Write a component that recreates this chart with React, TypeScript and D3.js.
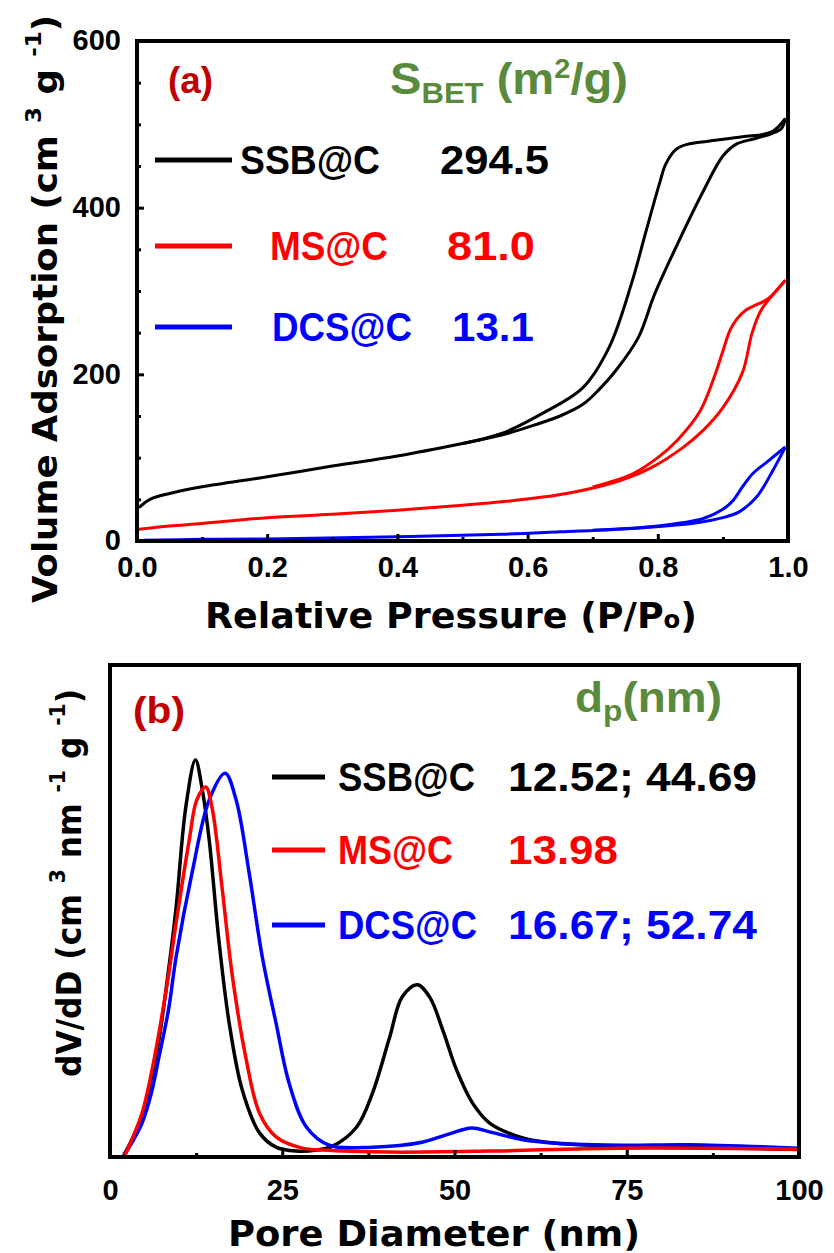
import React, { useEffect, useRef } from "react";
import * as d3 from "d3";

const W = 834;
const H = 1253;

// ---- (a) N2 adsorption / desorption isotherms ----
const ssbAdsP = [0.003, 0.02, 0.05, 0.1, 0.2, 0.3, 0.4, 0.5, 0.56, 0.61, 0.65, 0.685, 0.71, 0.735, 0.77, 0.795, 0.83, 0.87, 0.9, 0.92, 0.95, 0.975, 0.99, 0.996];
const ssbAdsV = [40, 50, 57, 65, 77, 90, 102, 117, 127, 139, 150, 164, 182, 204, 244, 296, 356, 420, 462, 476, 483, 489, 495, 507];
const ssbDesP = [0.996, 0.975, 0.93, 0.88, 0.845, 0.828, 0.812, 0.803, 0.782, 0.76, 0.725, 0.685, 0.62, 0.56, 0.5];
const ssbDesV = [507, 491, 485, 480, 476, 470, 452, 430, 372, 310, 232, 184, 152, 129, 117];

const msAdsP = [0.003, 0.05, 0.1, 0.2, 0.3, 0.4, 0.5, 0.56, 0.66, 0.74, 0.79, 0.84, 0.87, 0.9, 0.93, 0.945, 0.958, 0.975, 0.996];
const msAdsV = [14, 18, 21, 28, 32, 37, 43, 47, 57, 72, 88, 113, 133, 160, 202, 250, 276, 294, 313];
const msDesP = [0.996, 0.97, 0.95, 0.935, 0.921, 0.911, 0.9, 0.889, 0.865, 0.83, 0.8, 0.76, 0.7];
const msDesV = [313, 291, 283, 277, 266, 253, 228, 202, 156, 121, 100, 80, 65];

const dcsAdsP = [0.01, 0.1, 0.2, 0.4, 0.56, 0.65, 0.76, 0.86, 0.9, 0.925, 0.952, 0.977, 0.996];
const dcsAdsV = [1, 2, 2.5, 5, 8, 11, 15, 22, 28, 35, 53, 85, 113];
const dcsDesP = [0.996, 0.968, 0.946, 0.93, 0.916, 0.9, 0.87, 0.8, 0.7];
const dcsDesV = [113, 95, 81, 65, 49, 38, 27, 18, 13];

const aXTicks = [0, 0.2, 0.4, 0.6, 0.8, 1.0];
const aXMinor = [0.1, 0.3, 0.5, 0.7, 0.9];
const aYTicks = [0, 200, 400, 600];
const aYMinor = [50, 100, 150, 250, 300, 350, 450, 500, 550];

// ---- (b) pore size distribution (arb. units) ----
const ssbD = [2.0, 3, 4.65, 6, 7.1, 8.5, 9.6, 11.0, 12.4, 13.4, 14.4, 15.8, 17.3, 19.2, 21.7, 24.1, 27, 30, 32.3, 35.8, 38.1, 40.6, 42.4, 44.6, 46.4, 48.3, 50.3, 52.6, 55.1, 59.9, 64.8, 75, 85, 100];
const ssbDV = [0.004, 0.03, 0.081, 0.16, 0.238, 0.38, 0.508, 0.711, 0.807, 0.746, 0.644, 0.441, 0.272, 0.136, 0.049, 0.02, 0.012, 0.014, 0.022, 0.061, 0.13, 0.244, 0.325, 0.35, 0.325, 0.258, 0.177, 0.11, 0.069, 0.039, 0.028, 0.022, 0.02, 0.015];

const msD = [2.2, 3, 4.65, 6, 7.1, 8.5, 9.6, 11.5, 12.6, 13.9, 14.8, 16.3, 17.7, 19.7, 21.7, 24.1, 27.9, 30.8, 40.6, 55, 74, 100];
const msDV = [0.004, 0.03, 0.089, 0.17, 0.252, 0.37, 0.476, 0.644, 0.726, 0.752, 0.711, 0.543, 0.374, 0.203, 0.089, 0.041, 0.018, 0.014, 0.01, 0.012, 0.018, 0.016];

const dcsD = [2.0, 3, 4.65, 6, 7.1, 8.5, 9.6, 11.9, 14.4, 16.7, 18.3, 20.2, 22.1, 24.1, 26.0, 28.5, 31.8, 38.1, 45.3, 48.8, 52.5, 55.1, 59.9, 64.8, 74.4, 84, 100];
const dcsDV = [0.003, 0.025, 0.069, 0.13, 0.203, 0.3, 0.407, 0.577, 0.726, 0.78, 0.726, 0.577, 0.407, 0.272, 0.15, 0.061, 0.024, 0.02, 0.03, 0.045, 0.059, 0.051, 0.035, 0.028, 0.024, 0.025, 0.018];

const bXTicks = [0, 25, 50, 75, 100];
const bXMinor = [12.5, 37.5, 62.5, 87.5];

const samples = ["SSB@C", "MS@C", "DCS@C"];
const colors = ["#000000", "#ff0000", "#0000ff"];
const sbet = ["294.5", "81.0", "13.1"];
const dp = ["12.52; 44.69", "13.98", "16.67; 52.74"];

const LABEL_RED = "#c00000";
const GREEN = "#5a8a3c";
const SANS = "'Liberation Sans', Arial, sans-serif";
const WIDE = "'DejaVu Sans', Verdana, sans-serif";

const zip = (a: number[], b: number[]) => a.map((v, i) => [v, b[i]] as [number, number]);

function styleTicks(sel: any) {
  sel.select(".domain").remove();
  sel.selectAll(".tick line").attr("stroke", "#000").attr("stroke-width", 3);
  sel.selectAll(".tick text")
    .attr("fill", "#000")
    .style("font-family", SANS)
    .style("font-weight", "bold")
    .style("font-size", "29px");
}

// bold, slightly condensed label squeezed to a given width
function label(g: any, x: number, y: number, str: string, color: string, size: number, width: number) {
  return g.append("text").attr("x", x).attr("y", y).attr("fill", color)
    .attr("textLength", width).attr("lengthAdjust", "spacingAndGlyphs")
    .style("font-family", SANS).style("font-weight", "bold").style("font-size", `${size}px`)
    .text(str);
}

function drawIsotherm(svg: any) {
  const left = 137, right = 788, top = 41, bottom = 541;
  const x = d3.scaleLinear().domain([0, 1]).range([left, right]);
  const y = d3.scaleLinear().domain([0, 600]).range([bottom, top]);
  const g = svg.append("g");

  const line = d3.line<[number, number]>()
    .x(d => x(d[0]))
    .y(d => y(d[1]))
    .curve(d3.curveCatmullRom.alpha(0.5));

  const series = [
    [zip(ssbAdsP, ssbAdsV), zip(ssbDesP, ssbDesV)],
    [zip(msAdsP, msAdsV), zip(msDesP, msDesV)],
    [zip(dcsAdsP, dcsAdsV), zip(dcsDesP, dcsDesV)],
  ];
  series.forEach((branches, i) => {
    branches.forEach(b => {
      g.append("path").attr("d", line(b)).attr("fill", "none")
        .attr("stroke", colors[i]).attr("stroke-width", 3).attr("stroke-linejoin", "round");
    });
  });

  // axes (inward ticks)
  g.append("g").attr("transform", `translate(0,${bottom})`)
    .call(d3.axisBottom(x).tickValues(aXMinor).tickSize(-4).tickFormat(() => ""))
    .call(styleTicks);
  g.append("g").attr("transform", `translate(0,${bottom})`)
    .call(d3.axisBottom(x).tickValues(aXTicks).tickSize(-7).tickPadding(15).tickFormat(d3.format(".1f")))
    .call(styleTicks);
  g.append("g").attr("transform", `translate(0,0)`).attr("transform", `translate(${left},0)`)
    .call(d3.axisLeft(y).tickValues(aYMinor).tickSize(-4).tickFormat(() => ""))
    .call(styleTicks);
  const yAx = g.append("g").attr("transform", `translate(${left},0)`)
    .call(d3.axisLeft(y).tickValues(aYTicks).tickSize(-7).tickPadding(16))
    .call(styleTicks);
  yAx.selectAll(".tick text").attr("dy", "0.3em");

  g.append("rect").attr("x", left).attr("y", top).attr("width", right - left).attr("height", bottom - top)
    .attr("fill", "none").attr("stroke", "#000").attr("stroke-width", 4);

  // axis titles
  const xt = g.append("text").attr("x", 451).attr("y", 628).attr("text-anchor", "middle")
    .attr("textLength", 492).attr("lengthAdjust", "spacingAndGlyphs")
    .style("font-family", WIDE).style("font-weight", "bold").style("font-size", "36px");
  xt.append("tspan").text("Relative Pressure (P/P");
  xt.append("tspan").style("font-size", "24px").text("o");
  xt.append("tspan").text(")");

  const yt = g.append("text").attr("transform", "translate(57,603) rotate(-90)")
    .attr("textLength", 588).attr("lengthAdjust", "spacingAndGlyphs")
    .style("font-family", WIDE).style("font-weight", "bold").style("font-size", "34px");
  yt.append("tspan").text("Volume Adsorption (cm ");
  yt.append("tspan").attr("dy", -16).style("font-size", "22px").text("3");
  yt.append("tspan").attr("dy", 16).text(" g ");
  yt.append("tspan").attr("dy", -16).style("font-size", "22px").text("-1");
  yt.append("tspan").attr("dy", 16).text(")");

  // panel label and legend
  label(g, 168, 93, "(a)", LABEL_RED, 36, 45);

  const st = g.append("text").attr("x", 390).attr("y", 94).attr("fill", GREEN)
    .attr("textLength", 238).attr("lengthAdjust", "spacingAndGlyphs")
    .style("font-family", SANS).style("font-weight", "bold").style("font-size", "44px");
  st.append("tspan").text("S");
  st.append("tspan").attr("dy", 9).style("font-size", "29px").text("BET");
  st.append("tspan").attr("dy", -9).text(" (m");
  st.append("tspan").attr("dy", -16).style("font-size", "27px").text("2");
  st.append("tspan").attr("dy", 16).text("/g)");

  const rowsY = [160, 246, 327];
  const nameX = [240, 270, 272];
  const nameW = [140, 118, 140];
  const valX = [440, 447, 452];
  const valW = [109, 88, 82];
  samples.forEach((s, i) => {
    g.append("line").attr("x1", 155).attr("x2", 232).attr("y1", rowsY[i]).attr("y2", rowsY[i])
      .attr("stroke", colors[i]).attr("stroke-width", 5);
    label(g, nameX[i], rowsY[i] + 14, s, colors[i], 40, nameW[i]);
    label(g, valX[i], rowsY[i] + 14, sbet[i], colors[i], 40, valW[i]);
  });
}

function drawPoreSize(svg: any) {
  const left = 110, right = 799, top = 665, bottom = 1157;
  const x = d3.scaleLinear().domain([0, 100]).range([left, right]);
  const y = d3.scaleLinear().domain([0, 1]).range([bottom, top]);
  const g = svg.append("g");

  const line = d3.line<[number, number]>()
    .x(d => x(d[0]))
    .y(d => y(d[1]))
    .curve(d3.curveCatmullRom.alpha(0.5));

  const curves = [zip(ssbD, ssbDV), zip(msD, msDV), zip(dcsD, dcsDV)];
  [0, 2, 1].forEach(i => {
    g.append("path").attr("d", line(curves[i])).attr("fill", "none")
      .attr("stroke", colors[i]).attr("stroke-width", 3.5).attr("stroke-linejoin", "round");
  });

  g.append("g").attr("transform", `translate(0,${bottom})`)
    .call(d3.axisBottom(x).tickValues(bXMinor).tickSize(-4).tickFormat(() => ""))
    .call(styleTicks);
  g.append("g").attr("transform", `translate(0,${bottom})`)
    .call(d3.axisBottom(x).tickValues(bXTicks).tickSize(-7).tickPadding(22))
    .call(styleTicks);

  g.append("rect").attr("x", left).attr("y", top).attr("width", right - left).attr("height", bottom - top)
    .attr("fill", "none").attr("stroke", "#000").attr("stroke-width", 4);

  g.append("text").attr("x", 434).attr("y", 1246).attr("text-anchor", "middle")
    .attr("textLength", 412).attr("lengthAdjust", "spacingAndGlyphs")
    .style("font-family", WIDE).style("font-weight", "bold").style("font-size", "36px")
    .text("Pore Diameter (nm)");

  const yt = g.append("text").attr("transform", "translate(81,1077) rotate(-90)")
    .attr("textLength", 388).attr("lengthAdjust", "spacingAndGlyphs")
    .style("font-family", WIDE).style("font-weight", "bold").style("font-size", "34px");
  yt.append("tspan").text("dV/dD (cm ");
  yt.append("tspan").attr("dy", -16).style("font-size", "22px").text("3");
  yt.append("tspan").attr("dy", 16).text(" nm ");
  yt.append("tspan").attr("dy", -16).style("font-size", "22px").text("-1");
  yt.append("tspan").attr("dy", 16).text(" g ");
  yt.append("tspan").attr("dy", -16).style("font-size", "22px").text("-1");
  yt.append("tspan").attr("dy", 16).text(")");

  label(g, 133, 723, "(b)", LABEL_RED, 36, 52);

  const dt = g.append("text").attr("x", 575).attr("y", 712).attr("fill", GREEN)
    .attr("textLength", 147).attr("lengthAdjust", "spacingAndGlyphs")
    .style("font-family", SANS).style("font-weight", "bold").style("font-size", "42px");
  dt.append("tspan").text("d");
  dt.append("tspan").attr("dy", 9).style("font-size", "29px").text("p");
  dt.append("tspan").attr("dy", -9).text("(nm)");

  const rowsY = [777, 850, 925];
  const nameW = [137, 115, 139];
  const valW = [249, 110, 249];
  samples.forEach((s, i) => {
    g.append("line").attr("x1", 272).attr("x2", 325).attr("y1", rowsY[i]).attr("y2", rowsY[i])
      .attr("stroke", colors[i]).attr("stroke-width", 5);
    label(g, 338, rowsY[i] + 14, s, colors[i], 40, nameW[i]);
    label(g, 508, rowsY[i] + 14, dp[i], colors[i], 40, valW[i]);
  });
}

export default function App() {
  const ref = useRef<SVGSVGElement>(null);

  useEffect(() => {
    const svg = d3.select(ref.current);
    svg.selectAll("*").remove();
    drawIsotherm(svg);
    drawPoreSize(svg);
  }, []);

  return (
    <svg
      ref={ref}
      width={W}
      height={H}
      style={{ position: "absolute", left: 0, top: 0, background: "#fff" }}
    />
  );
}
